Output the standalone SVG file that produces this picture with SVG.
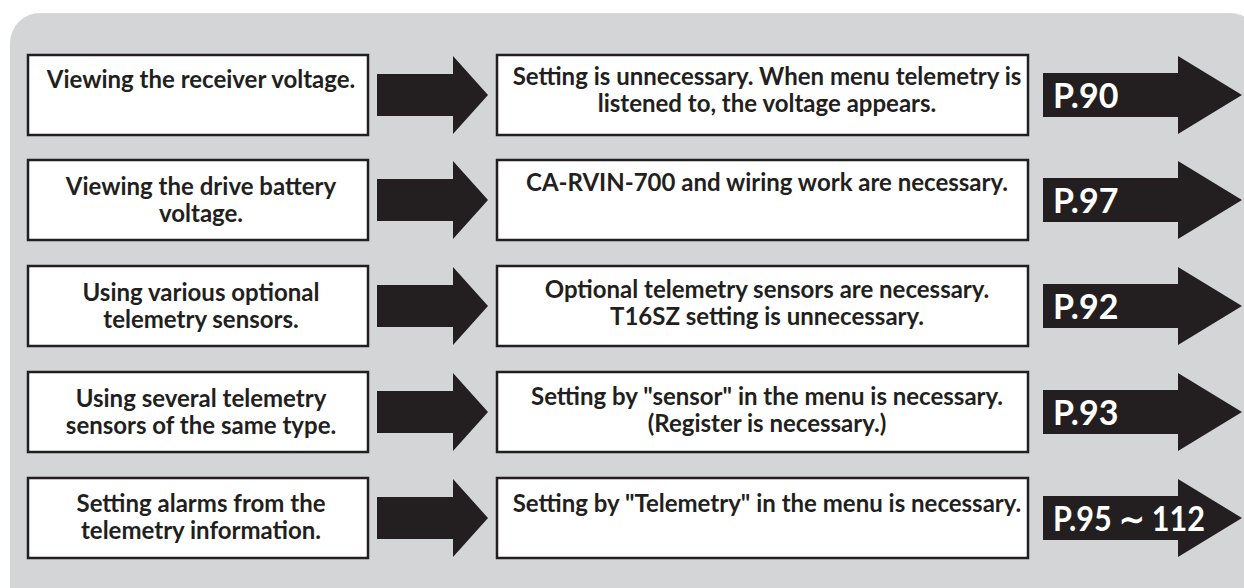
<svg xmlns="http://www.w3.org/2000/svg" width="1244" height="588" viewBox="0 0 1244 588">
<style>
.bg{fill:#d4d5d7}
.box{fill:#ffffff;stroke:#231f20;stroke-width:2.5}
.blk{fill:#231f20}
.t{font-family:Lato,"Liberation Sans",sans-serif;font-weight:700;font-size:24px;fill:#231f20;text-anchor:middle}
.p{font-family:Lato,"Liberation Sans","Noto Sans CJK JP",sans-serif;font-weight:700;font-size:34px;fill:#ffffff}
</style>
<rect class="bg" x="10" y="13" width="1250" height="620" rx="30"/>
<g id="connectors">
<path class="blk" d="M377,74H453V56L488,95L453,134V116H377Z"/>
<path class="blk" d="M377,179H453V161L488,200L453,239V221H377Z"/>
<path class="blk" d="M377,285H453V267L488,306L453,345V327H377Z"/>
<path class="blk" d="M377,391H453V373L488,412L453,451V433H377Z"/>
<path class="blk" d="M377,497H453V479L488,518L453,557V539H377Z"/>
</g>
<g id="q1"><rect class="box" x="28" y="55" width="340" height="80"/><text class="t" x="201" y="88">Viewing the receiver voltage.</text></g>
<g id="q2"><rect class="box" x="28" y="160" width="340" height="80"/><text class="t" x="201" y="195">Viewing the drive battery</text><text class="t" x="201" y="222">voltage.</text></g>
<g id="q3"><rect class="box" x="28" y="266" width="340" height="80"/><text class="t" x="201" y="301">Using various optional</text><text class="t" x="201" y="328">telemetry sensors.</text></g>
<g id="q4"><rect class="box" x="28" y="372" width="340" height="80"/><text class="t" x="201" y="407">Using several telemetry</text><text class="t" x="201" y="434">sensors of the same type.</text></g>
<g id="q5"><rect class="box" x="28" y="478" width="340" height="80"/><text class="t" x="201" y="512">Setting alarms from the</text><text class="t" x="201" y="539">telemetry information.</text></g>
<g id="a1"><rect class="box" x="497" y="55" width="531" height="80"/><text class="t" x="767" y="85">Setting is unnecessary. When menu telemetry is</text><text class="t" x="767" y="112">listened to, the voltage appears.</text></g>
<g id="a2"><rect class="box" x="497" y="160" width="531" height="80"/><text class="t" x="767" y="191">CA-RVIN-700 and wiring work are necessary.</text></g>
<g id="a3"><rect class="box" x="497" y="266" width="531" height="80"/><text class="t" x="767" y="298">Optional telemetry sensors are necessary.</text><text class="t" x="767" y="325">T16SZ setting is unnecessary.</text></g>
<g id="a4"><rect class="box" x="497" y="372" width="531" height="80"/><text class="t" x="767" y="405">Setting by "sensor" in the menu is necessary.</text><text class="t" x="767" y="432">(Register is necessary.)</text></g>
<g id="a5"><rect class="box" x="497" y="478" width="531" height="80"/><text class="t" x="767" y="512">Setting by "Telemetry" in the menu is necessary.</text></g>
<g id="p1"><path class="blk" d="M1043,73H1178V56L1242,95L1178,134V117H1043Z"/><text class="p" x="1053" y="108">P.90</text></g>
<g id="p2"><path class="blk" d="M1043,178H1178V161L1242,200L1178,239V222H1043Z"/><text class="p" x="1053" y="213">P.97</text></g>
<g id="p3"><path class="blk" d="M1043,284H1178V267L1242,306L1178,345V328H1043Z"/><text class="p" x="1053" y="319">P.92</text></g>
<g id="p4"><path class="blk" d="M1043,390H1178V373L1242,412L1178,451V434H1043Z"/><text class="p" x="1053" y="425">P.93</text></g>
<g id="p5"><path class="blk" d="M1043,496H1178V479L1242,518L1178,557V540H1043Z"/><text class="p" x="1053" y="531" textLength="152" lengthAdjust="spacingAndGlyphs">P.95 ∼ 112</text></g>
</svg>
